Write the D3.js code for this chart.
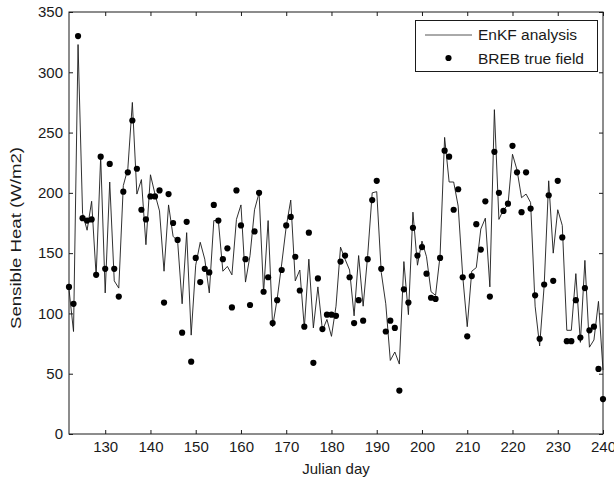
<!DOCTYPE html>
<html>
<head>
<meta charset="utf-8">
<script src="https://cdn.jsdelivr.net/npm/d3@7"></script>
<style>
  body { margin: 0; background: #fff; }
  text { font-family: "Liberation Sans", Arial, sans-serif; }
</style>
</head>
<body>
<div id="chart"></div>
<script>
// Julian days 122..240, one value per day
const firstDay = 122;
const enkfAnalysis = [
  120, 85, 323, 183, 169, 193, 131, 230, 117, 209,
  127, 121, 206, 220, 275, 199, 211, 157, 215, 199,
  185, 135, 190, 164, 160, 108, 167, 82, 140, 159,
  145, 117, 177, 177, 135, 139, 132, 178, 190, 126,
  148, 186, 200, 117, 177, 89, 112, 141, 172, 194,
  127, 136, 88, 145, 88, 122, 86, 95, 81, 106,
  155, 145, 136, 98, 148, 106, 148, 200, 201, 134,
  108, 61, 68, 58, 143, 99, 184, 140, 160, 147,
  118, 115, 148, 246, 209, 209, 189, 131, 89, 135,
  138, 170, 179, 122, 269, 178, 186, 190, 232, 219,
  196, 199, 192, 106, 73, 123, 210, 150, 186, 173,
  86, 86, 133, 76, 144, 72, 78, 110, 53
];
const brebTrue = [
  122, 108, 330, 179, 177, 178, 132, 230, 137, 224,
  137, 114, 201, 217, 260, 220, 186, 178, 197, 197,
  202, 109, 199, 175, 161, 84, 176, 60, 146, 126,
  137, 134, 190, 177, 145, 154, 105, 202, 173, 145,
  107, 168, 200, 118, 130, 92, 111, 136, 173, 180,
  147, 119, 89, 167, 59, 129, 87, 99, 99, 98,
  143, 148, 130, 92, 111, 94, 145, 194, 210, 137,
  85, 94, 88, 36, 120, 109, 171, 148, 155, 133,
  113, 112, 146, 235, 230, 186, 203, 130, 81, 131,
  174, 153, 193, 114, 234, 200, 185, 191, 239, 217,
  184, 217, 187, 115, 79, 124, 198, 127, 210, 163,
  77, 77, 111, 80, 121, 86, 89, 54, 29
];
const xTicks = [130, 140, 150, 160, 170, 180, 190, 200, 210, 220, 230, 240];
const yTicks = [0, 50, 100, 150, 200, 250, 300, 350];
const seriesNames = ["EnKF analysis", "BREB true field"];

const W = 614, H = 480;
const m = { left: 69, right: 11, top: 12, bottom: 46 };

const svg = d3.select("#chart").append("svg")
  .attr("width", W).attr("height", H);

const x = d3.scaleLinear().domain([firstDay, 240]).range([m.left, W - m.right]);
const y = d3.scaleLinear().domain([0, 350]).range([H - m.bottom, m.top]);

const days = enkfAnalysis.map((d, i) => firstDay + i);
const ink = "#1a1a1a";
const tickLen = 4;

// frame
svg.append("rect")
  .attr("x", m.left).attr("y", m.top)
  .attr("width", x.range()[1] - m.left)
  .attr("height", y.range()[0] - m.top)
  .attr("fill", "none").attr("stroke", ink).attr("stroke-width", 1);

// ticks on all four sides, pointing inwards
const axisX = d3.axisBottom(x).tickValues(xTicks).tickSizeInner(-tickLen).tickSizeOuter(0).tickPadding(7);
const axisY = d3.axisLeft(y).tickValues(yTicks).tickSizeInner(-tickLen).tickSizeOuter(0).tickPadding(6);

svg.append("g").attr("transform", `translate(0,${y.range()[0]})`).call(axisX);
svg.append("g").attr("transform", `translate(${m.left},0)`).call(axisY);
svg.append("g").attr("transform", `translate(0,${m.top})`)
  .call(d3.axisTop(x).tickValues(xTicks).tickSizeInner(-tickLen).tickSizeOuter(0).tickFormat(""));
svg.append("g").attr("transform", `translate(${x.range()[1]},0)`)
  .call(d3.axisRight(y).tickValues(yTicks).tickSizeInner(-tickLen).tickSizeOuter(0).tickFormat(""));

svg.selectAll(".domain").remove();
svg.selectAll(".tick line").attr("stroke", ink);
svg.selectAll(".tick text").attr("fill", ink).style("font-size", "15px");

// EnKF line
const line = d3.line().x((d, i) => x(days[i])).y(d => y(d));
svg.append("path")
  .attr("d", line(enkfAnalysis))
  .attr("fill", "none").attr("stroke", ink).attr("stroke-width", 0.9);

// BREB dots
svg.append("g").selectAll("circle")
  .data(brebTrue)
  .join("circle")
  .attr("cx", (d, i) => x(days[i]))
  .attr("cy", d => y(d))
  .attr("r", 3.1)
  .attr("fill", "#000");

// axis labels
svg.append("text")
  .attr("x", (m.left + x.range()[1]) / 2).attr("y", 474)
  .attr("text-anchor", "middle").attr("fill", ink)
  .style("font-size", "15px").text("Julian day");

// the y label is stretched along its length in the original
svg.append("text")
  .attr("transform", "translate(21,238) rotate(-90)")
  .attr("text-anchor", "middle").attr("fill", ink)
  .attr("textLength", 182).attr("lengthAdjust", "spacingAndGlyphs")
  .style("font-size", "15.5px").text("Sensible Heat (W/m2)");

// legend
const legend = svg.append("g");
legend.append("rect")
  .attr("x", 415.5).attr("y", 20.5).attr("width", 182).attr("height", 51)
  .attr("fill", "#fff").attr("stroke", ink);
legend.append("line")
  .attr("x1", 425).attr("x2", 472).attr("y1", 35).attr("y2", 35)
  .attr("stroke", "#555").attr("stroke-width", 1);
legend.append("circle")
  .attr("cx", 448.5).attr("cy", 58).attr("r", 3.1).attr("fill", "#000");
legend.selectAll("text.lab")
  .data(seriesNames)
  .join("text")
  .attr("class", "lab")
  .attr("x", 478).attr("y", (d, i) => 40 + i * 24)
  .attr("fill", ink).style("font-size", "15.5px")
  .text(d => d);
</script>
</body>
</html>
